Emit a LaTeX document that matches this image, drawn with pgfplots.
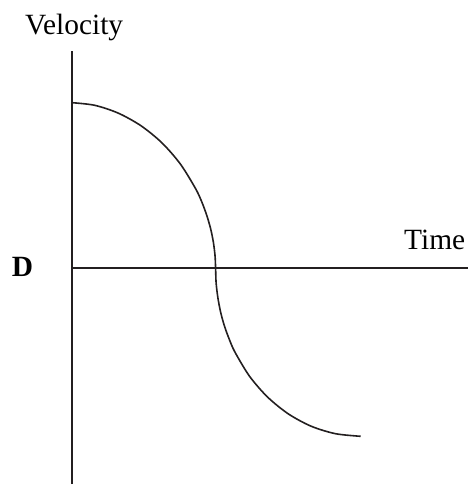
\documentclass[border=0pt]{standalone}
\usepackage{pgfplots}
\pgfplotsset{compat=1.18}
\usepackage{fontspec}
\setmainfont{Liberation Serif}
\definecolor{ink}{HTML}{231F20}
\pgfplotstableread{
x y
0 165.3
22.7 162.7
46.4 154.8
69.2 142.1
90.2 124.9
108.5 103.8
123.4 79.7
129.5 66.8
134.5 53.4
138.5 39.8
141.3 26.2
143.0 12.7
143.6 0
144.1 -14.7
145.8 -29.2
148.5 -43.6
152.3 -57.6
157.2 -71.1
163.0 -84.2
177.5 -108.2
195.4 -128.9
216.2 -145.8
239.1 -158.2
263.5 -165.7
288.7 -168.3
}\curve
\begin{document}
\begin{tikzpicture}
\path[use as bounding box] (-72bp,-1bp) rectangle (396bp,484bp);
\begin{axis}[
  scale only axis,
  width=396bp, height=433bp,
  xmin=0, xmax=396, ymin=-216, ymax=217,
  axis lines=middle,
  axis line style={-, line width=1.6bp, color=ink},
  xtick=\empty, ytick=\empty,
  clip=false,
]
\addplot[ink, line width=1.6bp, smooth] table[x=x,y=y] {\curve};
\node[anchor=base west, inner sep=0pt, font=\fontsize{29.5}{34}\selectfont] at (axis cs:-47,233) {Velocity};
\node[anchor=base west, inner sep=0pt, font=\fontsize{29.5}{34}\selectfont] at (axis cs:332,18) {Time};
\node[anchor=base west, inner sep=0pt, font=\fontsize{29.5}{34}\selectfont\bfseries] at (axis cs:-60.3,-9) {D};
\end{axis}
\end{tikzpicture}
\end{document}
